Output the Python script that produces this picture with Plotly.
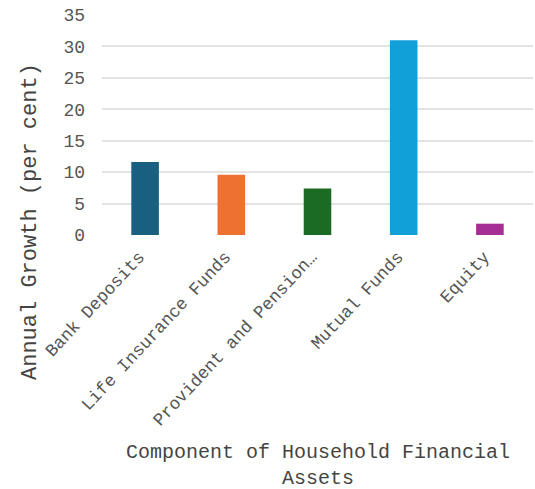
import plotly.graph_objects as go

categories = ["Bank Deposits", "Life Insurance Funds", "Provident and Pension…", "Mutual Funds", "Equity"]
values = [11.6, 9.6, 7.4, 31.0, 1.8]
colors = ["#185f80", "#ee7132", "#1c6b24", "#12a0d8", "#a42e93"]
y_ticks = [0, 5, 10, 15, 20, 25, 30, 35]

FONT = "Courier New, Liberation Mono, monospace"

fig = go.Figure(go.Bar(x=categories, y=values, marker=dict(color=colors, line=dict(width=0))))

fig.update_layout(
    width=535, height=489,
    margin=dict(l=102, r=2, t=15, b=254),
    plot_bgcolor="white", paper_bgcolor="white",
    bargap=0.68,
    showlegend=False,
    font=dict(family=FONT, size=18, color="#555555"),
)
fig.update_yaxes(
    range=[0, 35], tickvals=y_ticks, showgrid=True, gridcolor="#e3e3e3", gridwidth=2,
    zeroline=False, showline=False, ticklabelstandoff=16,
    tickfont=dict(family=FONT, size=18, color="#555555"),
)
fig.update_xaxes(
    tickangle=-47, showline=False, showgrid=False,
    ticklabelstandoff=7, ticklabelshift=-6,
    tickfont=dict(family=FONT, size=17.5, color="#555555"),
)
fig.add_annotation(
    text="Annual Growth (per cent)", textangle=-90, xref="paper", yref="paper",
    x=(30 - 102) / 431, y=(489 - 222 - 254) / 220, xanchor="center", yanchor="middle", showarrow=False,
    font=dict(family=FONT, size=22, color="#444444"),
)
fig.add_annotation(
    text="Component of Household Financial<br>Assets", xref="paper", yref="paper",
    x=0.5, y=(489 - 466 - 254) / 220, xanchor="center", yanchor="middle", showarrow=False,
    font=dict(family=FONT, size=20, color="#444444"),
)
fig.write_html("out.html", config={"displayModeBar": False},
               post_script="document.body.style.margin='0';")
